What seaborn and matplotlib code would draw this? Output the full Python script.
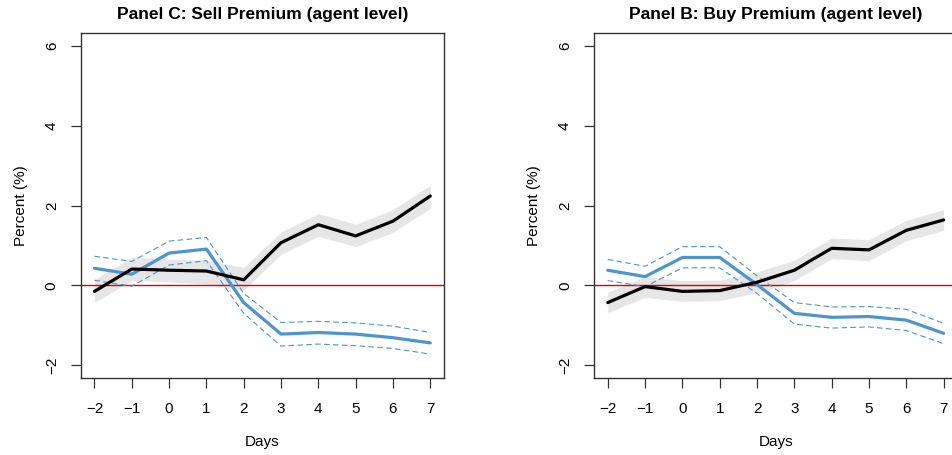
import numpy as np
import pandas as pd
import matplotlib
matplotlib.use("Agg")
import matplotlib.pyplot as plt
import seaborn as sns

days = [-2, -1, 0, 1, 2, 3, 4, 5, 6, 7]

# Panel C: sell premium
sell_black = [-0.15, 0.41, 0.38, 0.36, 0.14, 1.07, 1.52, 1.24, 1.61, 2.24]
sell_band_hi = [0.15, 0.70, 0.66, 0.63, 0.45, 1.34, 1.80, 1.53, 1.90, 2.51]
sell_band_lo = [-0.43, 0.13, 0.09, 0.03, -0.12, 0.78, 1.23, 0.97, 1.33, 1.93]
sell_blue = [0.43, 0.28, 0.81, 0.91, -0.43, -1.22, -1.18, -1.22, -1.31, -1.44]
sell_blue_hi = [0.73, 0.60, 1.11, 1.20, -0.20, -0.93, -0.90, -0.94, -1.02, -1.18]
sell_blue_lo = [0.13, -0.02, 0.51, 0.62, -0.70, -1.52, -1.47, -1.51, -1.58, -1.72]

# Panel B: buy premium
buy_black = [-0.43, -0.03, -0.15, -0.13, 0.08, 0.38, 0.93, 0.89, 1.38, 1.64]
buy_band_hi = [-0.17, 0.22, 0.12, 0.13, 0.34, 0.63, 1.19, 1.14, 1.63, 1.90]
buy_band_lo = [-0.68, -0.30, -0.40, -0.38, -0.18, 0.12, 0.67, 0.62, 1.12, 1.38]
buy_blue = [0.38, 0.22, 0.70, 0.70, 0.02, -0.70, -0.80, -0.78, -0.87, -1.20]
buy_blue_hi = [0.65, 0.48, 0.97, 0.97, 0.24, -0.43, -0.54, -0.53, -0.60, -0.95]
buy_blue_lo = [0.12, -0.03, 0.44, 0.44, -0.20, -0.97, -1.07, -1.04, -1.13, -1.46]

sns.set_style("white")
plt.rcParams["font.family"] = ["Liberation Sans", "DejaVu Sans"]
plt.rcParams["text.color"] = "black"
plt.rcParams["axes.labelcolor"] = "black"
plt.rcParams["xtick.color"] = "black"
plt.rcParams["ytick.color"] = "black"

BLUE = "#4F94CD"

fig = plt.figure(figsize=(9.52, 4.55), dpi=100)
ax1 = fig.add_axes([0.0851, 0.1692, 0.381, 0.758])
ax2 = fig.add_axes([0.6243, 0.1692, 0.381, 0.758])


def draw_panel(ax, title, black, lo, hi, blue, blue_hi, blue_lo):
    df = pd.DataFrame({"day": days, "black": black, "blue": blue,
                       "blue_hi": blue_hi, "blue_lo": blue_lo})
    ax.fill_between(df["day"], lo, hi, color="#E6E6E6", linewidth=0, zorder=1)
    ax.axhline(0, color="#E00000", linewidth=1.0, zorder=2)
    sns.lineplot(data=df, x="day", y="black", ax=ax, color="black", linewidth=2.3, zorder=4)
    sns.lineplot(data=df, x="day", y="blue", ax=ax, color=BLUE, linewidth=2.3, zorder=3)
    for col in ["blue_hi", "blue_lo"]:
        sns.lineplot(data=df, x="day", y=col, ax=ax, color=BLUE, linewidth=0.8,
                     linestyle=(0, (5, 3)), zorder=3)
    ax.set_xlim(-2.36, 7.36)
    ax.set_ylim(-2.32, 6.32)
    ax.set_xticks(days)
    ax.set_xticklabels([str(d).replace("-", "\u2212") for d in days])
    ax.set_yticks([-2, 0, 2, 4, 6])
    ax.set_yticklabels(["\u22122", "0", "2", "4", "6"], rotation=90, va="center")
    ax.tick_params(axis="both", length=7, width=0.9, labelsize=11,
                   bottom=True, left=True, labelcolor="black")
    ax.tick_params(axis="both", color="#333333")
    ax.tick_params(axis="x", pad=10)
    ax.tick_params(axis="y", pad=9)
    for s in ax.spines.values():
        s.set_color("#333333")
        s.set_linewidth(1.0)
    ax.set_xlabel("Days", fontsize=11, labelpad=14)
    ax.set_ylabel("Percent (%)", fontsize=11, labelpad=12)
    ax.set_title(title, fontsize=12.5, fontweight="bold", pad=10, color="black")


draw_panel(ax1, "Panel C: Sell Premium (agent level)", sell_black, sell_band_lo,
           sell_band_hi, sell_blue, sell_blue_hi, sell_blue_lo)
draw_panel(ax2, "Panel B: Buy Premium (agent level)", buy_black, buy_band_lo,
           buy_band_hi, buy_blue, buy_blue_hi, buy_blue_lo)

fig.savefig("out.png", dpi=100)
